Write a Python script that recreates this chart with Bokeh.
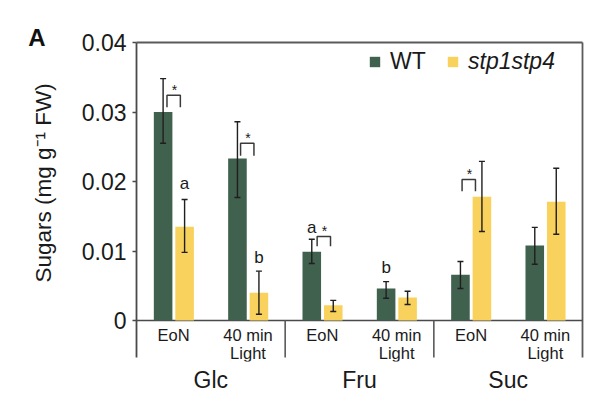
import math
from bokeh.plotting import figure
from bokeh.layouts import row
from bokeh.models import (Range1d, FixedTicker, LinearAxis, Legend, LegendItem,
                          Whisker, TeeHead, ColumnDataSource, CustomJSTickFormatter)
from bokeh.core.properties import value
from bokeh.embed import file_html
from bokeh.resources import INLINE

# ---------------- data ----------------
sugars = ["Glc", "Fru", "Suc"]
cond_line1 = ["EoN", "40 min"]
cond_line2 = ["", "Light"]
series_names = ["WT", "stp1stp4"]

wt_mean = [0.0300, 0.0233, 0.0099, 0.0046, 0.0066, 0.0108]
wt_lo = [0.0255, 0.0177, 0.0082, 0.0032, 0.0046, 0.0081]
wt_hi = [0.0348, 0.0286, 0.0117, 0.0056, 0.0085, 0.0134]
stp_mean = [0.0135, 0.0040, 0.0022, 0.0033, 0.0178, 0.0171]
stp_lo = [0.0098, 0.0009, 0.0013, 0.0023, 0.0128, 0.0124]
stp_hi = [0.0174, 0.0071, 0.0029, 0.0042, 0.0229, 0.0219]

y_ticks = [0, 0.01, 0.02, 0.03, 0.04]

# letters above bars (subgroup index, series, y)
letter_text = ["a", "b", "a", "b"]
letter_sub = [0, 1, 2, 3]
letter_series = ["stp1stp4", "stp1stp4", "WT", "WT"]
letter_y = [0.0197, 0.0091, 0.0134, 0.0076]

# significance brackets (x centre, top, bottom)
star_x = [0.50, 1.49, 2.52, 4.47]
star_top = [0.0324, 0.0255, 0.0121, 0.0203]
star_bottom = [0.0307, 0.0237, 0.0107, 0.0186]

y_title = "Sugars (mg g\u207b\u00b9 FW)"
panel_letter = "A"

# ---------------- style ----------------
FONT = "Liberation Sans"
GREEN = "#41614F"
YELLOW = "#F8D25C"
AXC = "#4a4a4a"
LNC = "#5a5a5a"
TXT = "#1a1a1a"
ERC = "#1f1f1f"
PX_PER_Y = 6950.0
PX_PER_X = 74.33
H = 399
BOTTOM = 38          # bottom border of the main plot
FRAME_BOTTOM = H - BOTTOM
ZERO_PX = 320        # page y of value 0
TOP_PX = 42          # page y of value 0.04
LEFT_W = 75

n_sub = len(sugars) * len(cond_line1)
xc = [i + 0.5 for i in range(n_sub)]
OFF_WT, OFF_STP, BW = -0.142, 0.147, 0.25
x_wt = [c + OFF_WT for c in xc]
x_stp = [c + OFF_STP for c in xc]

X_PAD = 2 / PX_PER_X
Y_TOP = y_ticks[-1] + TOP_PX / PX_PER_Y
Y_MIN = -(FRAME_BOTTOM - ZERO_PX) / PX_PER_Y
Y_LINE_MIN = -37 / PX_PER_Y

# ---------------- left strip: panel letter and y title ----------------
lp = figure(width=LEFT_W, height=H, x_range=Range1d(0, LEFT_W), y_range=Range1d(FRAME_BOTTOM, 0),
            x_axis_location=None, y_axis_location=None, output_backend="svg", toolbar_location=None,
            min_border_left=0, min_border_right=0, min_border_top=0, min_border_bottom=BOTTOM)
lp.grid.visible = False
lp.outline_line_color = None
lp.text(x=[36.5], y=[37], text=[panel_letter], text_align="center", text_baseline="middle",
        text_font=value(FONT), text_font_style="bold", text_font_size="24px", text_color="#111111")
lp.text(x=[43], y=[282], text=[y_title], angle=math.pi / 2, text_align="left",
        text_baseline="middle", text_font=value(FONT), text_font_size="22.5px", text_color=TXT)

# ---------------- main plot ----------------
p = figure(width=600 - LEFT_W, height=H, x_range=Range1d(-X_PAD, n_sub + X_PAD),
           y_range=Range1d(Y_MIN, Y_TOP),
           x_axis_location=None, y_axis_location=None, output_backend="svg", toolbar_location=None,
           min_border_left=134 - LEFT_W, min_border_right=16, min_border_top=0,
           min_border_bottom=BOTTOM)
p.grid.visible = False
p.outline_line_color = None

yax = LinearAxis(ticker=FixedTicker(ticks=y_ticks),
                 formatter=CustomJSTickFormatter(code="return tick === 0 ? '0' : tick.toFixed(2);"),
                 axis_line_color=None,
                 major_tick_line_color=AXC, major_tick_line_width=1.5,
                 major_tick_out=2, major_tick_in=2, minor_tick_line_color=None,
                 major_label_standoff=6, major_label_text_font=FONT,
                 major_label_text_font_size="23px", major_label_text_color=TXT)
p.add_layout(yax, "left")

group_centers = [len(cond_line1) * g + len(cond_line1) / 2 for g in range(len(sugars))]
xax = LinearAxis(ticker=FixedTicker(ticks=group_centers),
                 formatter=CustomJSTickFormatter(args=dict(labels=sugars, centers=group_centers),
                                                 code="return labels[centers.indexOf(tick)];"),
                 axis_line_color=None, major_tick_line_color=None, minor_tick_line_color=None,
                 major_tick_out=0, major_tick_in=0,
                 major_label_standoff=5, major_label_text_font=FONT,
                 major_label_text_font_size="23px", major_label_text_color=TXT)
p.add_layout(xax, "below")

# frame lines
p.segment(x0=[0, n_sub], y0=[Y_LINE_MIN, Y_LINE_MIN], x1=[0, n_sub], y1=[y_ticks[-1]] * 2,
          line_color=[AXC, LNC], line_width=1.8)
p.segment(x0=[0], y0=[y_ticks[-1]], x1=[n_sub], y1=[y_ticks[-1]], line_color=LNC, line_width=1.8)
p.segment(x0=[0], y0=[0], x1=[n_sub], y1=[0], line_color=AXC, line_width=1.6)
sep_x = [len(cond_line1) * g for g in range(1, len(sugars))]
p.segment(x0=sep_x, y0=[Y_LINE_MIN] * len(sep_x), x1=sep_x, y1=[0] * len(sep_x),
          line_color=LNC, line_width=1.6)

r_wt = p.vbar(x=x_wt, top=wt_mean, width=BW, fill_color=GREEN, line_color=None)
r_stp = p.vbar(x=x_stp, top=stp_mean, width=BW, fill_color=YELLOW, line_color=None)

src_err = ColumnDataSource(dict(x=x_wt + x_stp, lo=wt_lo + stp_lo, hi=wt_hi + stp_hi))
p.add_layout(Whisker(source=src_err, base="x", lower="lo", upper="hi", line_color=ERC, line_width=1.4,
                     level="overlay",
                     upper_head=TeeHead(size=6, line_color=ERC, line_width=1.4),
                     lower_head=TeeHead(size=6, line_color=ERC, line_width=1.4)))

# letters
lx = [xc[s] + (OFF_WT if ser == "WT" else OFF_STP) for s, ser in zip(letter_sub, letter_series)]
p.text(x=lx, y=letter_y, text=letter_text, text_align="center", text_baseline="middle",
       text_font=value(FONT), text_font_size="17px", text_color=TXT)

# brackets + stars
HW = 0.09
bx = [[c - HW, c - HW, c + HW, c + HW] for c in star_x]
by = [[b, t, t, b] for t, b in zip(star_top, star_bottom)]
p.multi_line(xs=bx, ys=by, line_color="#3a3a3a", line_width=1.5)
p.text(x=[c + 0.01 for c in star_x], y=[t + 5 / PX_PER_Y for t in star_top], text=["*"] * len(star_x),
       text_align="center", text_baseline="middle", text_font=value(FONT), text_font_size="14px",
       text_color=TXT)

# sub-category labels (two rows)
p.text(x=xc + xc, y=[-(334.5 - ZERO_PX) / PX_PER_Y] * n_sub + [-(352.5 - ZERO_PX) / PX_PER_Y] * n_sub,
       text=cond_line1 * len(sugars) + cond_line2 * len(sugars), text_align="center",
       text_baseline="middle", text_font=value(FONT), text_font_size="16.5px", text_color=TXT)

# legends
common = dict(orientation="horizontal", padding=0, margin=0, border_line_color=None,
              background_fill_alpha=0, glyph_width=13, glyph_height=13, label_standoff=9,
              label_text_font=FONT, label_text_font_size="23px", label_text_color=TXT)
leg1 = Legend(items=[LegendItem(label=series_names[0], renderers=[r_wt])], location=(234, 286), **common)
leg2 = Legend(items=[LegendItem(label=series_names[1], renderers=[r_stp])], location=(312, 286),
              label_text_font_style="italic", **common)
p.add_layout(leg1)
p.add_layout(leg2)

layout = row(lp, p, spacing=0)
open("out.html", "w").write(file_html(layout, INLINE))
